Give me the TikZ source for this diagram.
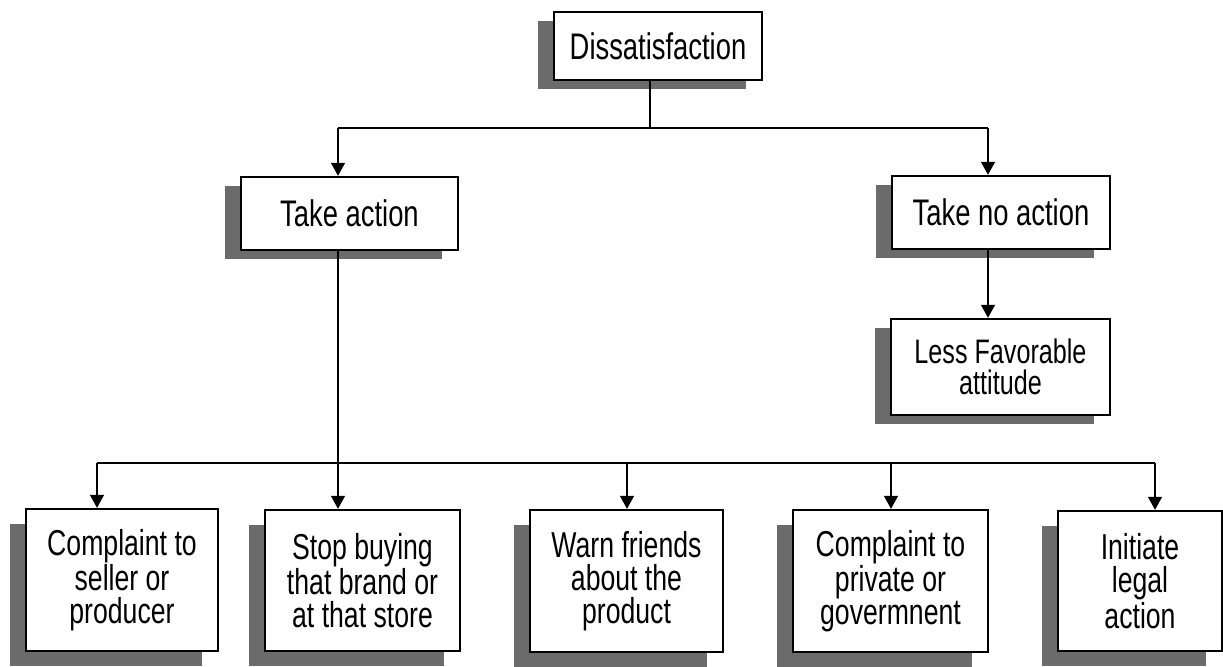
\documentclass[tikz,border=0pt]{standalone}
\usepackage{fontspec}
\setmainfont{Liberation Sans}[FakeStretch=0.74]
\usetikzlibrary{arrows.meta,shadows}
\begin{document}
\begin{tikzpicture}[x=0.5pt,y=-0.5pt,
  box/.style={draw,line width=1.2pt,fill=white,align=center,inner sep=0pt},
  shade/.style={drop shadow={shadow xshift=-8pt,shadow yshift=-#1,fill=black!58,opacity=1}},
  upper/.style={box,shade=4.5pt,font=\fontsize{18.5}{17}\selectfont},
  lower/.style={box,shade=7.5pt,font=\fontsize{18}{16.5}\selectfont},
  link/.style={line width=0.7pt},
  arr/.style={link,-{Triangle[width=7pt,length=6.5pt]}}
]
\useasboundingbox (0,0) rectangle (1223,666);

% decision tree boxes
\node[upper,minimum width=104pt,minimum height=34pt] (dis) at (658,46) {Dissatisfaction};
\node[upper,minimum width=108.5pt,minimum height=36.5pt] (take) at (349.5,213.5) {Take action};
\node[upper,minimum width=109pt,minimum height=36.5pt] (noact) at (1001,212.5) {Take no action};
\node[upper,minimum width=109.5pt,minimum height=48pt,font=\fontsize{17}{15.5}\selectfont] (less) at (1000.5,367) {\raisebox{-3pt}{\parbox{100pt}{\centering Less Favorable\\attitude}}};

\node[lower,minimum width=96pt,minimum height=71pt] (b1) at (122,580) {Complaint to\\seller or\\producer};
\node[lower,minimum width=97.5pt,minimum height=70.5pt] (b2) at (362.5,580.5) {Stop buying\\that brand or\\at that store};
\node[lower,minimum width=96.5pt,minimum height=71pt] (b3) at (626.5,581) {Warn friends\\about the\\product};
\node[lower,minimum width=97.5pt,minimum height=71pt] (b4) at (890.5,581) {Complaint to\\private or\\govermnent};
\node[lower,minimum width=82pt,minimum height=70pt] (b5) at (1140,581) {Initiate\\legal\\action};

% junction points of the connectors
\coordinate (split) at (650,128);
\coordinate (xa) at (338,0);
\coordinate (xb) at (988,0);
\coordinate (bus1) at (97,463);
\coordinate (bus3) at (627,463);
\coordinate (bus4) at (891,463);
\coordinate (bus5) at (1155,463);

% first split
\draw[link] (dis.south -| split) -- (split);
\draw[link] (split -| xa) -- (split -| xb);
\draw[arr] (split -| xa) -- (take.north -| xa);
\draw[arr] (split -| xb) -- (noact.north -| xb);
\draw[arr] (noact.south -| xb) -- (less.north -| xb);

% actions taken
\draw[arr] (take.south -| xa) -- (b2.north -| xa);
\draw[link] (bus1) -- (bus5);
\draw[arr] (bus1) -- (b1.north -| bus1);
\draw[arr] (bus3) -- (b3.north -| bus3);
\draw[arr] (bus4) -- (b4.north -| bus4);
\draw[arr] (bus5) -- (b5.north -| bus5);
\end{tikzpicture}
\end{document}
